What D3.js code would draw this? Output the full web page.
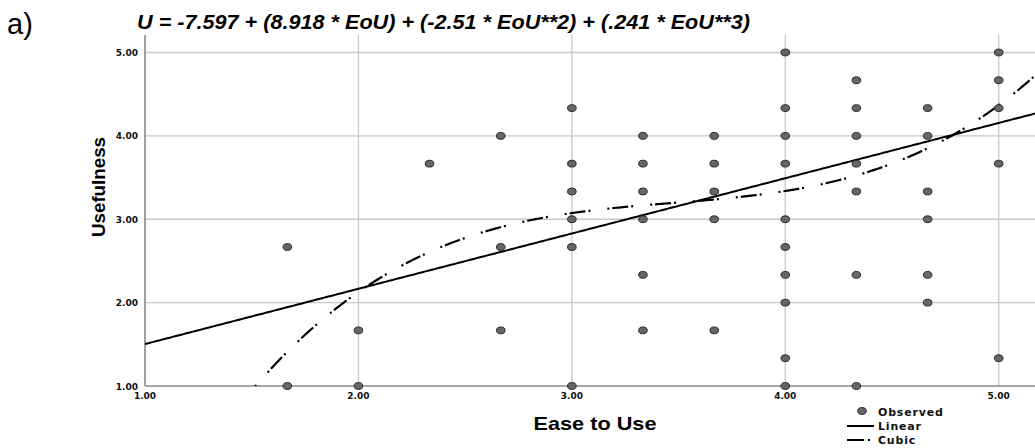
<!DOCTYPE html>
<html lang="en">
<head>
    <meta charset="UTF-8">
    <title>Usefulness vs Ease to Use</title>
    <script src="https://d3js.org/d3.v7.min.js"></script>
    <style>
        body { margin: 0; background: #fff; }
        svg { display: block; }
        .tick-label { font-family: "DejaVu Sans", sans-serif; font-weight: bold; font-size: 9px; fill: #111; }
        .legend-text { font-family: "DejaVu Sans", sans-serif; font-weight: bold; font-size: 11px; letter-spacing: 0.8px; fill: #111; }
    </style>
</head>
<body>
    <svg id="chart"></svg>
    <script>
        // observed points: [Ease to Use, Usefulness]
        const observed = [
            [1.667, 2.667], [1.667, 1.0],
            [2.0, 1.667], [2.0, 1.0],
            [2.333, 3.667],
            [2.667, 4.0], [2.667, 2.667], [2.667, 1.667],
            [3.0, 4.333], [3.0, 3.667], [3.0, 3.333], [3.0, 3.0], [3.0, 2.667], [3.0, 1.0],
            [3.333, 4.0], [3.333, 3.667], [3.333, 3.333], [3.333, 3.0], [3.333, 2.333], [3.333, 1.667],
            [3.667, 4.0], [3.667, 3.667], [3.667, 3.333], [3.667, 3.0], [3.667, 1.667],
            [4.0, 5.0], [4.0, 4.333], [4.0, 4.0], [4.0, 3.667], [4.0, 3.0], [4.0, 2.667], [4.0, 2.333], [4.0, 2.0], [4.0, 1.333], [4.0, 1.0],
            [4.333, 4.667], [4.333, 4.333], [4.333, 4.0], [4.333, 3.667], [4.333, 3.333], [4.333, 2.333], [4.333, 1.0],
            [4.667, 4.333], [4.667, 4.0], [4.667, 3.333], [4.667, 3.0], [4.667, 2.333], [4.667, 2.0],
            [5.0, 5.0], [5.0, 4.667], [5.0, 4.333], [5.0, 3.667], [5.0, 1.333]
        ];
        const xTicks = [1, 2, 3, 4, 5];
        const yTicks = [1, 2, 3, 4, 5];
        // fit coefficients (constant first)
        const linearCoef = [0.84, 0.663];
        const cubicCoef = [-7.597, 8.918, -2.51, 0.241];
        const titleText = "U = -7.597 + (8.918 * EoU) + (-2.51 * EoU**2) + (.241 * EoU**3)";
        const legendItems = ["Observed", "Linear", "Cubic"];

        const width = 1035, height = 448;
        const margin = { top: 35, right: 0, bottom: 62, left: 145 };
        const svg = d3.select("#chart").attr("width", width).attr("height", height);

        const x = d3.scaleLinear().domain([1, 5.17]).range([margin.left, width - margin.right]);
        const y = d3.scaleLinear().domain([1, 5.21]).range([height - margin.bottom, margin.top]);

        svg.append("defs").append("clipPath").attr("id", "plot")
            .append("rect")
            .attr("x", x(1)).attr("y", y(5.21))
            .attr("width", x(5.17) - x(1)).attr("height", y(1) - y(5.21));

        // grid
        svg.append("g").selectAll("line").data(xTicks.slice(1)).join("line")
            .attr("x1", d => x(d)).attr("x2", d => x(d))
            .attr("y1", y(5.21)).attr("y2", y(1))
            .attr("stroke", "#c8c8c8").attr("stroke-width", 1.3);
        svg.append("g").selectAll("line").data(yTicks.slice(1)).join("line")
            .attr("x1", x(1)).attr("x2", x(5.17))
            .attr("y1", d => y(d)).attr("y2", d => y(d))
            .attr("stroke", "#c8c8c8").attr("stroke-width", 1.3);

        // axes lines
        svg.append("line").attr("x1", x(1)).attr("x2", x(1)).attr("y1", y(5.21)).attr("y2", y(1))
            .attr("stroke", "#8a8a8a").attr("stroke-width", 1.6);
        svg.append("line").attr("x1", x(1)).attr("x2", x(5.17)).attr("y1", y(1)).attr("y2", y(1))
            .attr("stroke", "#8a8a8a").attr("stroke-width", 1.6);

        // tick labels
        svg.append("g").selectAll("text").data(yTicks).join("text")
            .attr("class", "tick-label")
            .attr("x", x(1) - 7).attr("y", d => y(d) + 3.5)
            .attr("text-anchor", "end")
            .text(d => d.toFixed(2));
        svg.append("g").selectAll("text").data(xTicks).join("text")
            .attr("class", "tick-label")
            .attr("x", d => x(d)).attr("y", y(1) + 13)
            .attr("text-anchor", "middle")
            .text(d => d.toFixed(2));

        // fitted lines
        const poly = (c, v) => c.reduce((s, k, i) => s + k * Math.pow(v, i), 0);
        const xs = d3.range(1, 5.18, 0.01);
        const line = d3.line().x(d => x(d[0])).y(d => y(d[1]));
        const lines = svg.append("g").attr("clip-path", "url(#plot)");
        lines.append("path")
            .attr("d", line(xs.map(v => [v, poly(linearCoef, v)])))
            .attr("fill", "none").attr("stroke", "#000").attr("stroke-width", 2);
        lines.append("path")
            .attr("d", line(xs.map(v => [v, poly(cubicCoef, v)])))
            .attr("fill", "none").attr("stroke", "#000").attr("stroke-width", 2.2)
            .attr("stroke-dasharray", "2,3,16,3,2,17");

        // points
        svg.append("g").selectAll("ellipse").data(observed).join("ellipse")
            .attr("cx", d => x(d[0])).attr("cy", d => y(d[1]))
            .attr("rx", 4.3).attr("ry", 3.4)
            .attr("fill", "#666").attr("stroke", "#2a2a2a").attr("stroke-width", 1);

        // title & labels
        svg.append("text").attr("x", 7).attr("y", 34)
            .style("font-family", "'Liberation Sans', Arial, sans-serif")
            .style("font-size", "29px").text("a)");
        svg.append("text").attr("x", 137).attr("y", 29)
            .attr("textLength", 613).attr("lengthAdjust", "spacingAndGlyphs")
            .style("font-family", "'Liberation Sans', Arial, sans-serif")
            .style("font-size", "20px").style("font-weight", "bold").style("font-style", "italic")
            .text(titleText);
        svg.append("text")
            .attr("transform", `translate(105,187) rotate(-90)`)
            .attr("text-anchor", "middle")
            .attr("textLength", 100).attr("lengthAdjust", "spacingAndGlyphs")
            .style("font-family", "'Liberation Sans Narrow', 'Liberation Sans', sans-serif")
            .style("font-size", "18px").style("font-weight", "bold")
            .text("Usefulness");
        svg.append("text").attr("x", 595).attr("y", 430)
            .attr("text-anchor", "middle")
            .attr("textLength", 123).attr("lengthAdjust", "spacingAndGlyphs")
            .style("font-family", "'Liberation Sans', Arial, sans-serif")
            .style("font-size", "19px").style("font-weight", "bold")
            .text("Ease to Use");

        // legend
        const lg = svg.append("g");
        lg.append("ellipse").attr("cx", 862).attr("cy", 411).attr("rx", 4.3).attr("ry", 3.4)
            .attr("fill", "#666").attr("stroke", "#2a2a2a");
        lg.append("line").attr("x1", 847).attr("x2", 874).attr("y1", 426).attr("y2", 426)
            .attr("stroke", "#000").attr("stroke-width", 2);
        lg.append("line").attr("x1", 847).attr("x2", 876).attr("y1", 440).attr("y2", 440)
            .attr("stroke", "#000").attr("stroke-width", 2).attr("stroke-dasharray", "17,4,2,10");
        lg.selectAll("text.legend-text").data(legendItems).join("text")
            .attr("class", "legend-text")
            .attr("x", 878).attr("y", (d, i) => 416 + i * 14)
            .text(d => d);
    </script>
</body>
</html>
